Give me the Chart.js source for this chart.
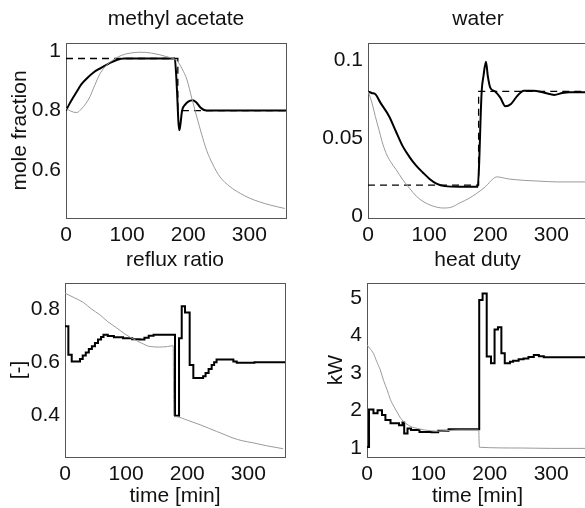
<!DOCTYPE html>
<html>
<head>
<meta charset="utf-8">
<script src="https://cdn.jsdelivr.net/npm/chart.js@4.4.1/dist/chart.umd.min.js"></script>
<style>
  html, body { margin: 0; padding: 0; background: #fff; overflow: hidden; }
  #wrap { position: relative; width: 585px; height: 508px; overflow: hidden; }
  canvas { position: absolute; }
</style>
</head>
<body>
<div id="wrap">
  <canvas id="ma" width="292" height="254" style="left:0;top:0"></canvas>
  <canvas id="water" width="296" height="254" style="left:292px;top:0"></canvas>
  <canvas id="reflux" width="292" height="262" style="left:0;top:246px"></canvas>
  <canvas id="heat" width="296" height="262" style="left:292px;top:246px"></canvas>
</div>
<script>
// time axis (min)
const timeTicks = [0, 100, 200, 300];
const timeLabels = ['0', '100', '200', '300'];

// methyl acetate mole fraction: [t, value]
const maControlled = [[0,0.80],[5,0.82],[10,0.838],[17.5,0.863],[25,0.888],[34,0.908],[45,0.928],[56,0.942],[70,0.958],[83,0.97],[95,0.975],[178,0.975],[180,0.93],[182,0.85],[184,0.76],[185.5,0.734],[187,0.75],[190,0.80],[195,0.82],[200,0.83],[207,0.835],[213,0.828],[220,0.81],[226,0.802],[235,0.80],[360,0.80]];
const maOpenLoop = [[0,0.807],[8,0.798],[17.5,0.793],[25,0.805],[33,0.825],[39,0.846],[47,0.885],[56,0.925],[66,0.952],[77,0.97],[90,0.985],[105,0.993],[121,0.996],[140,0.993],[165,0.981],[178,0.972],[183,0.964],[190,0.94],[198,0.903],[206,0.84],[214,0.779],[222,0.72],[230,0.667],[240,0.62],[252,0.577],[268,0.545],[285,0.522],[300,0.506],[317,0.493],[335,0.482],[358,0.471]];
const maSetpoint = [[0,0.975],[183,0.975],[183,0.80],[360,0.80]];
const maTicks = [0.6, 0.8, 1];
const maLabels = ['0.6', '0.8', '1'];

// water mole fraction
const waterControlled = [[0,0.080],[6,0.079],[12.7,0.078],[20,0.073],[34.7,0.064],[45,0.055],[56.7,0.045],[68,0.038],[78.8,0.0325],[90,0.028],[100.8,0.024],[112,0.021],[125.6,0.0194],[150,0.019],[179.6,0.019],[182,0.035],[184,0.06],[186,0.08],[189,0.09],[193,0.099],[196,0.09],[200,0.0825],[208,0.08],[216.5,0.076],[224.8,0.0705],[234,0.072],[244,0.077],[255,0.0805],[270,0.0805],[290,0.079],[304.7,0.0778],[318,0.079],[330,0.0795],[360,0.0795]];
const waterOpenLoop = [[0,0.08],[3,0.077],[7,0.072],[12,0.064],[18,0.0554],[23,0.048],[29,0.041],[37,0.035],[46,0.030],[56,0.024],[68,0.018],[79,0.013],[90,0.0096],[105,0.0068],[123,0.0054],[137,0.006],[150,0.0086],[165,0.0115],[178,0.0148],[192,0.019],[205,0.0242],[211,0.0253],[230,0.024],[255,0.0231],[280,0.0226],[310,0.0221],[360,0.0221]];
const waterSetpoint = [[0,0.02],[181,0.02],[181,0.08],[360,0.08]];
const waterTicks = [0, 0.05, 0.1];
const waterLabels = ['0', '0.05', '0.1'];

// reflux ratio (stepped controller output)
const refluxControlled = [[0,0.735],[5.5,0.628],[11,0.603],[24.5,0.612],[29,0.625],[34,0.637],[39,0.65],[44,0.66],[49,0.672],[54,0.685],[59,0.695],[63,0.703],[70,0.698],[80,0.694],[95,0.69],[110,0.686],[122,0.685],[130,0.692],[137,0.699],[145,0.703],[180,0.40],[186.6,0.69],[191,0.81],[196.4,0.786],[204,0.59],[210,0.541],[226,0.548],[230,0.56],[235,0.575],[240,0.59],[244,0.60],[248,0.61],[275.5,0.603],[281,0.598],[310,0.60],[360,0.60]];
const refluxOpenLoop = [[0,0.859],[15,0.842],[30,0.824],[43,0.8],[57,0.778],[70,0.752],[85,0.728],[98,0.706],[112,0.687],[125,0.672],[139,0.659],[155,0.657],[168,0.659],[177,0.662],[178,0.40],[182,0.396],[200,0.383],[221,0.366],[235,0.353],[248,0.341],[262,0.328],[275,0.316],[290,0.306],[308,0.298],[330,0.287],[357,0.276]];
const refluxTicks = [0.4, 0.6, 0.8];
const refluxLabels = ['0.4', '0.6', '0.8'];

// heat duty (kW)
const heatControlled = [[0,1.03],[3.3,2.03],[10.5,1.93],[17.2,2.01],[24.4,1.88],[30,1.75],[38.3,1.66],[52.2,1.61],[57.8,1.68],[60.6,1.39],[66,1.52],[71.7,1.48],[85.5,1.43],[105,1.42],[116,1.46],[132.8,1.50],[182.8,4.95],[188.3,5.12],[195,3.44],[202,3.26],[207.8,4.16],[213.3,4.22],[218.9,3.53],[224.4,3.26],[232.8,3.30],[238,3.33],[247,3.37],[255,3.39],[263,3.43],[271.7,3.48],[280,3.45],[288,3.42],[305,3.42],[363,3.42]];
const heatOpenLoop = [[0,3.75],[5,3.65],[10.5,3.52],[16,3.3],[21.7,3.08],[27,2.8],[32.8,2.55],[38,2.3],[44,2.10],[50,1.93],[55,1.79],[63,1.66],[71.7,1.57],[82,1.52],[94,1.48],[105,1.46],[116,1.45],[135,1.47],[150,1.48],[182,1.48],[183,1.02],[250,1.0],[300,0.99],[363,0.99]];
const heatTicks = [1, 2, 3, 4, 5];
const heatLabels = ['1', '2', '3', '4', '5'];

const FONT = 'Liberation Sans, Arial, Helvetica, sans-serif';
const INK = '#111';

// box around the plot area
const framePlugin = {
  id: 'frame',
  beforeDatasetsDraw(chart) {
    const { ctx, chartArea: a } = chart;
    ctx.save();
    ctx.strokeStyle = '#555';
    ctx.lineWidth = 1;
    ctx.strokeRect(Math.round(a.left) + 0.5, Math.round(a.top) + 0.5,
      Math.round(a.right - a.left), Math.round(a.bottom - a.top));
    ctx.restore();
  }
};

const toXY = pts => pts.map(p => ({ x: p[0], y: p[1] }));

function controlled(pts, stepped) {
  return { data: toXY(pts), borderColor: '#000', borderWidth: 2, pointRadius: 0,
    stepped: stepped ? true : false, cubicInterpolationMode: stepped ? 'default' : 'monotone' };
}
function openLoop(pts) {
  return { data: toXY(pts), borderColor: '#9a9a9a', borderWidth: 1, pointRadius: 0,
    cubicInterpolationMode: 'monotone' };
}
function setpoint(pts) {
  return { data: toXY(pts), borderColor: '#000', borderWidth: 1.3, borderDash: [7, 5], pointRadius: 0 };
}

function makeChart(id, o) {
  return new Chart(document.getElementById(id), {
    type: 'line',
    data: { datasets: o.datasets },
    options: {
      responsive: false,
      animation: false,
      devicePixelRatio: 1,
      layout: { padding: { left: 0, top: 0, right: o.padRight, bottom: 0 } },
      plugins: {
        legend: { display: false },
        tooltip: { enabled: false },
        title: {
          display: true, text: o.title, fullSize: false, color: INK,
          font: { family: FONT, size: 21, weight: 'normal' },
          padding: o.titlePad
        }
      },
      scales: {
        x: {
          type: 'linear', min: 0, max: 360,
          grid: { display: false, drawTicks: false },
          border: { display: false },
          ticks: { color: INK, font: { family: FONT, size: 21 }, padding: 5, maxRotation: 0, autoSkip: false,
            callback: (v, i) => timeLabels[i] },
          afterBuildTicks: s => { s.ticks = timeTicks.map(v => ({ value: v })); },
          afterFit: s => { s.height = o.xHeight; },
          title: o.xTitle ? { display: true, text: o.xTitle, color: INK,
            font: { family: FONT, size: 21, lineHeight: 1 }, padding: { top: 0, bottom: 0.8 } } : { display: false }
        },
        y: {
          type: 'linear', min: o.yMin, max: o.yMax,
          grid: { display: false, drawTicks: false },
          border: { display: false },
          ticks: { color: INK, font: { family: FONT, size: 21 }, padding: 5, autoSkip: false,
            callback: (v, i) => o.yLabels[i] },
          afterBuildTicks: s => { s.ticks = o.yTicks.map(v => ({ value: v })); },
          afterFit: s => { s.width = o.yWidth; },
          title: o.yTitle ? { display: true, text: o.yTitle, color: INK,
            font: { family: FONT, size: 21 }, padding: { top: o.yTitlePad, bottom: 0 } } : { display: false }
        }
      }
    },
    plugins: [framePlugin]
  });
}

makeChart('ma', {
  title: 'methyl acetate', titlePad: { top: 6.8, bottom: 11 },
  padRight: 6, yWidth: 66, xHeight: 36,
  yMin: 0.439, yMax: 1.027, yTicks: maTicks, yLabels: maLabels,
  yTitle: 'mole fraction', yTitlePad: 8,
  datasets: [openLoop(maOpenLoop), setpoint(maSetpoint), controlled(maControlled, false)]
});

makeChart('water', {
  title: 'water', titlePad: { top: 6.8, bottom: 11 },
  padRight: 0, yWidth: 76, xHeight: 36,
  yMin: -0.001, yMax: 0.111, yTicks: waterTicks, yLabels: waterLabels,
  datasets: [openLoop(waterOpenLoop), setpoint(waterSetpoint), controlled(waterControlled, false)]
});

makeChart('reflux', {
  title: 'reflux ratio', titlePad: { top: 2.1, bottom: 9.7 },
  padRight: 7, yWidth: 65, xHeight: 51,
  yMin: 0.245, yMax: 0.897, yTicks: refluxTicks, yLabels: refluxLabels,
  yTitle: '[-]', yTitlePad: 7, xTitle: 'time [min]',
  datasets: [openLoop(refluxOpenLoop), controlled(refluxControlled, true)]
});

makeChart('heat', {
  title: 'heat duty', titlePad: { top: 2.1, bottom: 9.7 },
  padRight: 0, yWidth: 75, xHeight: 51,
  yMin: 0.76, yMax: 5.4, yTicks: heatTicks, yLabels: heatLabels,
  yTitle: 'kW', yTitlePad: 32, xTitle: 'time [min]',
  datasets: [openLoop(heatOpenLoop), controlled(heatControlled, true)]
});
</script>
</body>
</html>
